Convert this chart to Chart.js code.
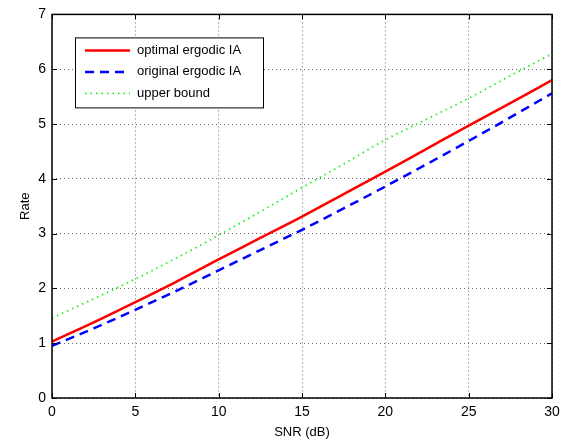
<!DOCTYPE html>
<html>
<head>
<meta charset="utf-8">
<script src="https://cdn.jsdelivr.net/npm/chart.js@4"></script>
<style>
  html, body { margin: 0; padding: 0; background: #fff; }
  #wrap { width: 573px; height: 444px; }
</style>
</head>
<body>
<div id="wrap"><canvas id="rate"></canvas></div>
<script>
// values
var snr = [0, 2.5, 5, 7.5, 10, 12.5, 15, 17.5, 20, 22.5, 25, 27.5, 30];
var optimalIA = [1.03, 1.38, 1.75, 2.13, 2.53, 2.92, 3.31, 3.72, 4.13, 4.55, 4.97, 5.38, 5.80];
var originalIA = [0.95, 1.27, 1.61, 1.96, 2.33, 2.70, 3.07, 3.46, 3.86, 4.27, 4.69, 5.12, 5.56];
var upperBound = [1.46, 1.81, 2.17, 2.56, 2.97, 3.40, 3.84, 4.27, 4.71, 5.09, 5.47, 5.88, 6.28];
var xTicks = [0, 5, 10, 15, 20, 25, 30];
var yTicks = [0, 1, 2, 3, 4, 5, 6, 7];

var FONT = "'Liberation Sans', Arial, sans-serif";

function pts(ys) {
    return snr.map(function (x, i) { return { x: x, y: ys[i] }; });
}

// box around the axes + inward tick marks (matlab style)
var boxPlugin = {
    id: 'box',
    afterDraw: function (chart) {
        var c = chart.ctx, a = chart.chartArea;
        var xs = chart.scales.x, ys = chart.scales.y;
        c.save();
        c.strokeStyle = '#000';
        c.lineWidth = 1.5;
        c.strokeRect(a.left, a.top, a.right - a.left, a.bottom - a.top);
        c.lineWidth = 1;
        c.beginPath();
        xTicks.forEach(function (t) {
            var px = Math.round(xs.getPixelForValue(t)) + 0.5;
            c.moveTo(px, a.bottom); c.lineTo(px, a.bottom - 5);
            c.moveTo(px, a.top); c.lineTo(px, a.top + 5);
        });
        yTicks.forEach(function (t) {
            var py = Math.round(ys.getPixelForValue(t)) + 0.5;
            c.moveTo(a.left, py); c.lineTo(a.left + 5, py);
            c.moveTo(a.right, py); c.lineTo(a.right - 5, py);
        });
        c.stroke();
        c.restore();
    }
};

// legend box inside the plot, top left
var legendBox = {
    id: 'legendBox',
    afterDraw: function (chart) {
        var c = chart.ctx, a = chart.chartArea;
        var x0 = a.left + 23, y0 = a.top + 23, w = 188, h = 70;
        c.save();
        c.fillStyle = '#fff';
        c.fillRect(x0, y0, w, h);
        c.strokeStyle = '#000';
        c.lineWidth = 1;
        c.strokeRect(x0 + 0.5, y0 + 0.5, w, h);
        c.font = '13px ' + FONT;
        c.textBaseline = 'middle';
        chart.data.datasets.forEach(function (ds, i) {
            var ly = y0 + 13 + i * 21.5;
            c.beginPath();
            c.strokeStyle = ds.borderColor;
            c.lineWidth = ds.borderWidth;
            c.setLineDash(ds.borderDash || []);
            c.moveTo(x0 + 10, ly);
            c.lineTo(x0 + 55, ly);
            c.stroke();
            c.setLineDash([]);
            c.fillStyle = '#000';
            c.fillText(ds.label, x0 + 62, ly);
        });
        c.restore();
    }
};

var ctx = document.getElementById('rate');
var myChart = new Chart(ctx, {
    type: 'line',
    data: {
        datasets: [
            {
                label: 'optimal ergodic IA',
                data: pts(optimalIA),
                borderColor: '#ff0000',
                borderWidth: 2.5,
                pointRadius: 0,
                cubicInterpolationMode: 'monotone'
            },
            {
                label: 'original ergodic IA',
                data: pts(originalIA),
                borderColor: '#0000ff',
                borderWidth: 2.5,
                borderDash: [9, 6],
                pointRadius: 0,
                cubicInterpolationMode: 'monotone'
            },
            {
                label: 'upper bound',
                data: pts(upperBound),
                borderColor: '#22ee22',
                borderWidth: 1.8,
                borderDash: [1.5, 4],
                pointRadius: 0,
                cubicInterpolationMode: 'monotone'
            }
        ]
    },
    options: {
        responsive: true,
        maintainAspectRatio: false,
        animation: false,
        layout: { padding: { top: 10, right: 21, left: 14, bottom: 0 } },
        plugins: { legend: { display: false }, tooltip: { enabled: false } },
        scales: {
            x: {
                type: 'linear',
                min: 0,
                max: 30,
                afterBuildTicks: function (s) { s.ticks = xTicks.map(function (v) { return { value: v }; }); },
                afterFit: function (s) { s.height = 46; },
                border: { display: false, dash: [1, 3] },
                grid: { color: 'rgba(0,0,0,0.6)', drawTicks: false },
                ticks: { color: '#000', font: { family: FONT, size: 14 }, padding: 6 },
                title: { display: true, text: 'SNR (dB)', color: '#000', font: { family: FONT, size: 13 }, padding: { top: 2, bottom: 4 } }
            },
            y: {
                min: 0,
                max: 7,
                afterBuildTicks: function (s) { s.ticks = yTicks.map(function (v) { return { value: v }; }); },
                afterFit: function (s) { s.width = 38; },
                border: { display: false, dash: [1, 3] },
                grid: { color: 'rgba(0,0,0,0.6)', drawTicks: false },
                ticks: { color: '#000', font: { family: FONT, size: 14 }, padding: 6 },
                title: { display: true, text: 'Rate', color: '#000', font: { family: FONT, size: 13 }, padding: { top: 4, bottom: 4 } }
            }
        }
    },
    plugins: [boxPlugin, legendBox]
});
</script>
</body>
</html>
